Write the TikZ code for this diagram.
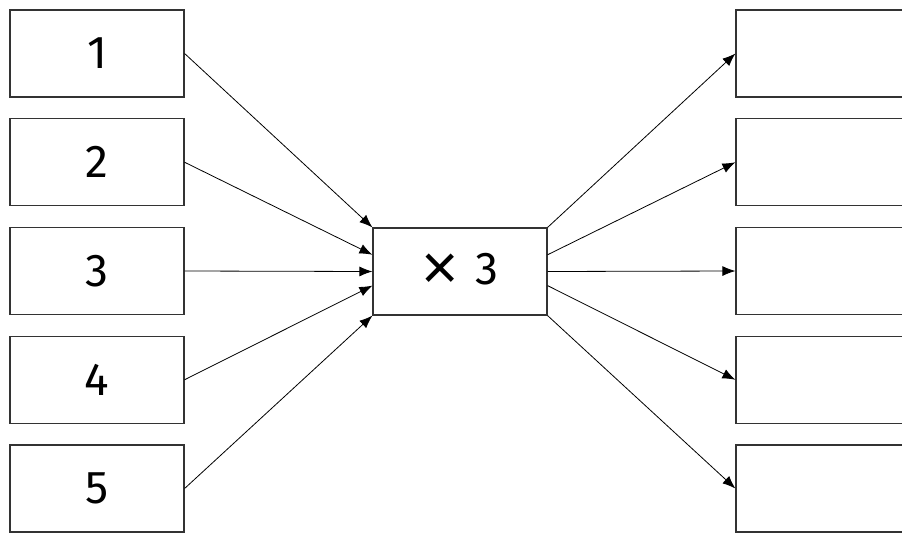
\documentclass[tikz,border=0pt]{standalone}
\usepackage{fontspec}
\setmainfont{Fira Sans}
\newfontfamily\timesfont{Liberation Sans}
\usetikzlibrary{arrows.meta,calc}
\begin{document}
\begin{tikzpicture}[x=1pt,y=-1pt,
  box/.style={draw=black!80,line width=1.2pt,minimum width=174pt,minimum height=87pt,inner sep=0pt,font=\fontsize{46}{50}\selectfont},
  arr/.style={line width=0.8pt,-{Latex[length=13pt,width=10pt]}}]
\useasboundingbox (0,0) rectangle (902,533);
\clip (0,0) rectangle (902,533);
\foreach \i/\t in {1/1,2/2,3/3,4/4,5/5}{
  \node[box] (l\i) at (97,{53.5+108.75*(\i-1)}) {\t};
  \node[box] (r\i) at (823,{53.5+108.75*(\i-1)}) {};
}
\node[box] (c) at (460,271.5) {\raisebox{-5pt}{\timesfont\fontsize{64}{64}\selectfont ×}\hspace{16pt}3};
\coordinate (ci1) at (c.north west);
\coordinate (ci2) at ($(c.north west)!0.31!(c.south west)$);
\coordinate (ci3) at (c.west);
\coordinate (ci4) at ($(c.north west)!0.66!(c.south west)$);
\coordinate (ci5) at (c.south west);
\coordinate (co1) at (c.north east);
\coordinate (co2) at ($(c.north east)!0.31!(c.south east)$);
\coordinate (co3) at (c.east);
\coordinate (co4) at ($(c.north east)!0.66!(c.south east)$);
\coordinate (co5) at (c.south east);
\foreach \i in {1,...,5}{
  \draw[arr] (l\i.east) -- (ci\i);
  \draw[arr] (co\i) -- (r\i.west);
}
\end{tikzpicture}
\end{document}
